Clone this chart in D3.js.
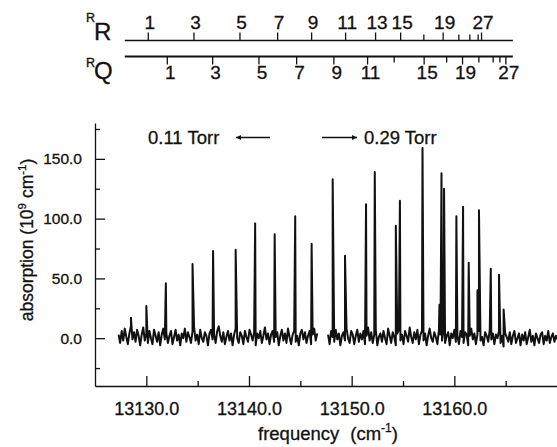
<!DOCTYPE html>
<html>
<head>
<meta charset="utf-8">
<script src="https://cdn.jsdelivr.net/npm/d3@7/dist/d3.min.js"></script>
<style>
  html, body { margin: 0; padding: 0; background: #fff; }
  svg { display: block; font-family: "Liberation Sans", Arial, Helvetica, sans-serif; }
  svg text { stroke: #111; stroke-width: 0.3px; }
</style>
</head>
<body>
<svg id="chart" width="557" height="447"></svg>
<script>
// ---------------- data ----------------
const xTicksMajor = [13130, 13140, 13150, 13160];
const xTicksMinor = [13135, 13145, 13155, 13165];
const yTicksMajor = [0, 50, 100, 150];
const yTicksMinor = [-25, 25, 75, 125, 175];

// line peaks (frequency cm^-1, absorption 1e9 cm^-1)
const peakFreq = [13128.5, 13130.0, 13131.9, 13134.5, 13136.5, 13138.7, 13140.6, 13142.5,
  13144.5, 13146.1, 13148.15, 13149.35, 13151.4, 13152.25, 13154.3, 13154.7, 13156.9,
  13158.55, 13158.75, 13159.0, 13160.2, 13160.85, 13161.4, 13162.25, 13162.4, 13163.55,
  13164.35, 13164.8];
const peakHeight = [17, 27, 46, 62, 73, 74, 96, 87,
  102, 79, 133, 69, 112, 139, 94, 115, 159,
  28, 138, 125, 102, 110, 63, 40, 107, 58,
  53, 24];

// baseline noise, sampled every 0.15 cm^-1 from 13127.3 (null = gap between scans)
const noiseStart = 13127.3;
const noiseStep = 0.15;
const noise = [
  3, -4, 6, -2, 8, 1, -5, 4, 10, -1, 5, -3, 7, 2, -6, 3, 9, -2, 4, -4,
  6, 0, -5, 7, 2, -3, 5, -6, 3, 8, -1, 4, -4, 2, 6, -5, 1, 7, -2, 3,
  -6, 4, 0, 8, -3, 5, 1, -4, 6, 9, -2, 3, -5, 7, 0, -3, 5, 2, -6, 4,
  7, -1, 3, -4, 6, 10, 2, -3, 5, -5, 1, 6, -2, 4, -6, 3, 8, 0, -4, 5,
  2, -5, 6, 1, -3, 7, 3, -2, 5, -6, 4, 0, 6, -4, 2, 9, -1, 4, -5, 3,
  6, -3, 1, 5, -6, 2, 7, -2, 4, -4, 8, 1, -5, 3, 6, -3, 2, -6, 4, 7,
  -1, 5, -4, 2, 6, -5, 3, 8, -2, 4,
  null, null, null, null, null, null,
  3, -5, 6, 1, -3, 7, -1, 4, -6, 2, 5, -2, 8, 0, -4, 6, 3, -5, 2, 7,
  -3, 4, -1, 6, -5, 2, 9, -2, 5, -4, 3, 7, -6, 1, 4, -3, 6, 0, -5, 8,
  2, -4, 5, 1, -6, 4, 7, -2, 3, -5, 6, 2, -3, 9, 1, -4, 5, -1, 7, -5,
  3, 6, -2, 4, -6, 2, 8, 0, -3, 5, 1, -5, 7, 3, -2, 6, -4, 2, 5, -6,
  4, 0, 7, -3, 2, -5, 6, 1, -4, 5, 3, -6, 2, 8, -1, 4, -5, 3, 6, -2,
  1, -6, 5, 2, -3, 7, -1, 4, -5, 3, 0, 6, -4, 2, -7, 4, 1, -3, 5, -5,
  2, 6, -4, 0, 4, -6, 3, -2, 5, -5, 1, 7, -3, 2, -6, 4, 0, -4, 3, 5,
  -5, 2, -2, 6, -4, 1, 4, -3, 2, -1
];

// rotational assignment combs (odd J = 1 ... 27)
const combJ = [1, 3, 5, 7, 9, 11, 13, 15, 17, 19, 21, 23, 25, 27];
const rrFreq = [13130.19, 13134.64, 13139.12, 13142.79, 13146.10, 13149.41, 13152.33,
  13154.77, 13157.03, 13158.91, 13160.44, 13161.51, 13162.32, 13162.65];
const rqFreq = [13132.04, 13136.46, 13140.97, 13144.64, 13148.27, 13151.55, 13154.14,
  13157.06, 13159.25, 13160.80, 13162.39, 13163.78, 13164.44, 13165.02];
const rrLabeled = [1, 3, 5, 7, 9, 11, 13, 15, 19, 27];
const rqLabeled = [1, 3, 5, 7, 9, 11, 15, 19, 27];
const combRange = [13127.9, 13165.7];

const annLeft = "0.11 Torr";
const annRight = "0.29 Torr";

// ---------------- drawing ----------------
const svg = d3.select("#chart");
const x = d3.scaleLinear().domain([13125, 13170]).range([95, 557]);
const y = d3.scaleLinear().domain([-40, 180]).range([386, 123]);
const ink = "#111";

// axes
const fmt = d3.format(".1f");
const gy = svg.append("g").attr("transform", "translate(95,0)")
  .call(d3.axisLeft(y).tickValues(yTicksMajor).tickSizeInner(-10).tickSizeOuter(0)
    .tickPadding(13).tickFormat(fmt));
svg.append("g").attr("transform", "translate(95,0)")
  .call(d3.axisLeft(y).tickValues(yTicksMinor).tickSizeInner(-5).tickSizeOuter(0)
    .tickFormat(""))
  .select(".domain").remove();
const gx = svg.append("g").attr("transform", "translate(0,386)")
  .call(d3.axisBottom(x).tickValues(xTicksMajor).tickSizeInner(-10).tickSizeOuter(0)
    .tickPadding(16).tickFormat(fmt));
svg.append("g").attr("transform", "translate(0,386)")
  .call(d3.axisBottom(x).tickValues(xTicksMinor).tickSizeInner(-5).tickSizeOuter(0)
    .tickFormat(""))
  .select(".domain").remove();
svg.selectAll(".domain, .tick line").attr("stroke", ink).attr("stroke-width", 1.3);
gy.selectAll("text").attr("font-size", 15.5).attr("fill", ink)
  .attr("font-family", "Liberation Sans, Arial, sans-serif");
gx.selectAll("text").attr("font-size", 18).attr("fill", ink)
  .attr("font-family", "Liberation Sans, Arial, sans-serif");

// spectrum
const pts = noise.map((v, i) => ({ f: noiseStart + i * noiseStep, v }))
  .concat(peakFreq.map((f, i) => ({ f, v: peakHeight[i] })))
  .sort((a, b) => a.f - b.f);
svg.append("defs").append("clipPath").attr("id", "plotclip")
  .append("rect").attr("x", 95).attr("y", 100).attr("width", 462).attr("height", 286);
svg.append("path")
  .datum(pts)
  .attr("clip-path", "url(#plotclip)")
  .attr("fill", "none")
  .attr("stroke", ink)
  .attr("stroke-width", 2)
  .attr("stroke-linejoin", "round")
  .attr("d", d3.line().defined(d => d.v !== null).x(d => x(d.f)).y(d => y(d.v)));

// axis titles
const xt = svg.append("text").attr("x", 328).attr("y", 440).attr("text-anchor", "middle")
  .attr("font-size", 18.5).attr("fill", ink);
xt.append("tspan").text("frequency");
xt.append("tspan").attr("dx", 11).text("(cm");
xt.append("tspan").attr("dy", -8).attr("font-size", 12).text("-1");
xt.append("tspan").attr("dy", 8).text(")");

const yt = svg.append("text").attr("transform", "translate(33,240) rotate(-90)")
  .attr("text-anchor", "middle").attr("font-size", 17.5).attr("fill", ink);
yt.append("tspan").text("absorption (10");
yt.append("tspan").attr("dy", -7).attr("font-size", 11.5).text("9");
yt.append("tspan").attr("dy", 7).text(" cm");
yt.append("tspan").attr("dy", -7).attr("font-size", 11.5).text("-1");
yt.append("tspan").attr("dy", 7).text(")");

// pressure annotations
const defs = svg.select("defs");
defs.append("marker").attr("id", "ah").attr("viewBox", "0 0 10 10")
  .attr("refX", 10).attr("refY", 5).attr("markerWidth", 7).attr("markerHeight", 5)
  .attr("markerUnits", "userSpaceOnUse").attr("orient", "auto")
  .append("path").attr("d", "M0,0 L10,5 L0,10 Z").attr("fill", ink);
svg.append("text").attr("x", 148).attr("y", 143.5).attr("font-size", 18.5)
  .attr("fill", ink).text(annLeft);
svg.append("line").attr("x1", 270).attr("y1", 137.5).attr("x2", 236).attr("y2", 137.5)
  .attr("stroke", ink).attr("stroke-width", 1.3).attr("marker-end", "url(#ah)");
svg.append("line").attr("x1", 322).attr("y1", 137.5).attr("x2", 357).attr("y2", 137.5)
  .attr("stroke", ink).attr("stroke-width", 1.3).attr("marker-end", "url(#ah)");
svg.append("text").attr("x", 364).attr("y", 143.5).attr("font-size", 18.5)
  .attr("fill", ink).text(annRight);

// assignment combs
function comb(freqs, labeled, lineY, dir, lineW, labelY, labelDx) {
  const g = svg.append("g");
  g.append("line").attr("x1", x(combRange[0])).attr("x2", x(combRange[1]))
    .attr("y1", lineY).attr("y2", lineY).attr("stroke", ink).attr("stroke-width", lineW);
  combJ.forEach((j, i) => {
    const isLab = labeled.includes(j);
    const len = isLab ? 8 : 6;
    g.append("line").attr("x1", x(freqs[i])).attr("x2", x(freqs[i]))
      .attr("y1", lineY).attr("y2", lineY + dir * len)
      .attr("stroke", ink).attr("stroke-width", 1.3);
    if (isLab) {
      g.append("text").attr("x", x(freqs[i]) + labelDx).attr("y", labelY)
        .attr("text-anchor", "middle").attr("font-size", 19).attr("fill", ink)
        .text(j);
    }
  });
}
comb(rrFreq, rrLabeled, 40.5, -1, 1.3, 28.5, 1.5);
comb(rqFreq, rqLabeled, 56.5, 1, 1.9, 78.5, 3);

// branch labels  R R  and  R Q
function branch(sup, main, supY, baseY) {
  svg.append("text").attr("x", 86).attr("y", supY).attr("font-size", 12.5)
    .attr("fill", ink).text(sup);
  svg.append("text").attr("x", 94).attr("y", baseY).attr("font-size", 24)
    .attr("fill", ink).text(main);
}
branch("R", "R", 22, 40);
branch("R", "Q", 66.5, 79);
</script>
</body>
</html>
